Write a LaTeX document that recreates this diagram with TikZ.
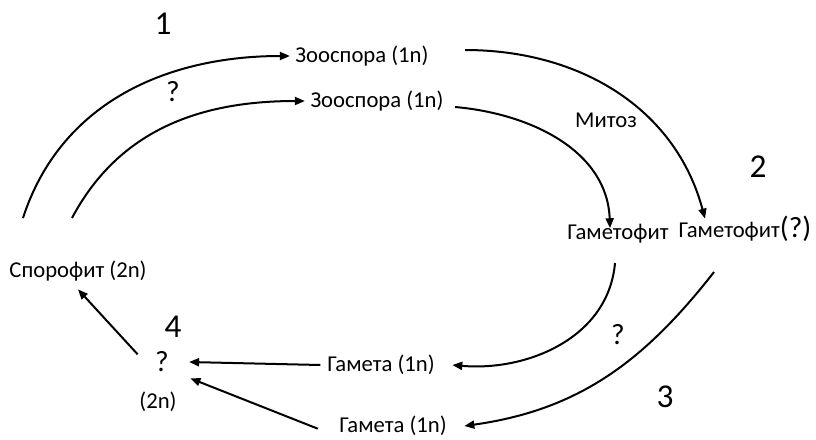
\documentclass[tikz,border=0pt]{standalone}
\usepackage{fontspec}
\setmainfont{Carlito}
\usetikzlibrary{arrows.meta}

\begin{document}
\begin{tikzpicture}[x=0.75pt, y=-0.75pt, >={Triangle[length=7.5pt,width=6pt]},
  lbl/.style={font=\fontsize{17}{19}\selectfont, inner sep=1pt},
  num/.style={font=\fontsize{25}{28}\selectfont, inner sep=0pt},
  qm/.style={font=\fontsize{22}{24}\selectfont, inner sep=0pt},
  arr/.style={->, line width=1.5pt}]
\useasboundingbox (0,0) rectangle (816,439);

% stages
\node[lbl] (zooA) at (362,56) {Зооспора (1n)};
\node[lbl] (zooB) at (377,101) {Зооспора (1n)};
\node[lbl] (gamL) at (618,234) {Гаметофит};
\node[lbl] (gamR) at (745,229) {Гаметофит{\fontsize{22}{24}\selectfont(?)}};
\node[lbl] (spor) at (78,271) {Спорофит (2n)};
\node[qm] (zyg) at (162,362) {?};
\node[lbl] (zygn) at (158,402) {(2n)};
\node[lbl] (gmA) at (381,365) {Гамета (1n)};
\node[lbl] (gmB) at (393,426) {Гамета (1n)};

% free ends of the arcs
\coordinate (s1) at (23,218);
\coordinate (s2) at (72,218);
\coordinate (s3) at (465,50);
\coordinate (s4) at (455,107);
\coordinate (s5) at (615,263);
\coordinate (s6) at (714,272);

\draw[arr] (s1) to[out=72,in=180] ([xshift=-3]zooA.west);
\draw[arr] (s2) to[out=62,in=180] ([xshift=-3]zooB.west);
\draw[arr] (s3) to[out=0,in=105] ([xshift=-30,yshift=-3]gamR.north);
\draw[arr] (s4) to[out=-5,in=92] ([xshift=-6,yshift=-4]gamL.north);
\draw[arr] (s5) to[out=-95,in=-5] ([xshift=12]gmA.east);
\draw[arr] (s6) to[out=-128,in=8] ([xshift=12]gmB.east);
\draw[arr] ([xshift=-4]gmA.west) -- ([xshift=15]zyg.east);
\draw[arr] ([xshift=-15,yshift=-2]gmB.west) -- ([xshift=16,yshift=-4.5]zyg.south east);
\draw[arr] ([xshift=-13,yshift=-2]zyg.north west) -- ([yshift=-5]spor.south);

% labels
\node[num] (n1) at (163,24) {1};
\node[qm] (q1) at (173,92) {?};
\node[lbl] (mit) at (606,120) {Митоз};
\node[num] (n2) at (758,167) {2};
\node[qm] (q2) at (618,335) {?};
\node[num] (n3) at (665,397) {3};
\node[num] (n4) at (173,327) {4};
\end{tikzpicture}
\end{document}
